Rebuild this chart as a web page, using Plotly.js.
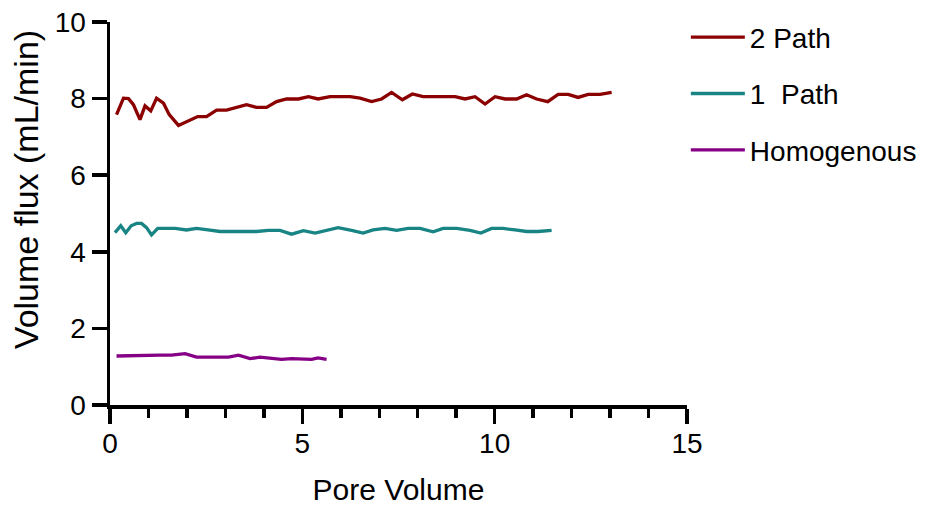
<!DOCTYPE html>
<html>
<head>
<meta charset="utf-8">
<script src="https://cdn.plot.ly/plotly-3.0.1.min.js"></script>
<style>html,body{margin:0;padding:0;background:#fff;}#chart{width:946px;height:508px;}</style>
</head>
<body>
<div id="chart"></div>
<script>
const seriesNames = ["2 Path", "1  Path", "Homogenous"];

const path2X = [0.17,0.35,0.48,0.61,0.78,0.91,1.06,1.21,1.39,1.54,1.78,2.04,2.28,2.51,2.77,3.03,3.29,3.55,3.81,4.07,4.33,4.59,4.90,5.16,5.41,5.72,5.98,6.24,6.5,6.80,7.06,7.32,7.60,7.86,8.14,8.45,8.71,8.97,9.23,9.49,9.75,10.01,10.27,10.57,10.83,11.09,11.38,11.65,11.91,12.17,12.43,12.74,13.04];
const path2Y = [7.58,8.01,8.0,7.84,7.45,7.81,7.68,8.01,7.88,7.58,7.30,7.42,7.53,7.53,7.70,7.70,7.77,7.84,7.77,7.77,7.92,7.99,7.99,8.05,7.99,8.05,8.05,8.05,8.01,7.92,7.99,8.16,7.97,8.12,8.05,8.05,8.05,8.05,7.99,8.05,7.86,8.05,7.99,7.99,8.10,7.99,7.92,8.11,8.11,8.03,8.11,8.11,8.16];

const path1X = [0.13,0.28,0.41,0.55,0.69,0.82,0.95,1.08,1.24,1.5,1.69,1.99,2.25,2.55,2.86,3.15,3.5,3.81,4.12,4.42,4.72,5.03,5.33,5.63,5.93,6.28,6.58,6.84,7.15,7.45,7.75,8.06,8.40,8.66,9.01,9.36,9.64,9.92,10.22,10.53,10.83,11.13,11.48];
const path1Y = [4.50,4.68,4.50,4.68,4.74,4.74,4.63,4.44,4.61,4.61,4.61,4.57,4.61,4.57,4.53,4.53,4.53,4.53,4.56,4.56,4.46,4.55,4.49,4.57,4.63,4.56,4.49,4.57,4.61,4.56,4.61,4.61,4.52,4.61,4.61,4.56,4.49,4.61,4.61,4.57,4.53,4.53,4.56];

const homoX = [0.17,0.45,0.75,1.0,1.3,1.6,1.95,2.25,2.5,2.73,3.08,3.34,3.64,3.90,4.2,4.46,4.72,5.03,5.24,5.41,5.63];
const homoY = [1.28,1.29,1.29,1.30,1.30,1.30,1.34,1.25,1.25,1.25,1.25,1.30,1.21,1.25,1.21,1.19,1.21,1.21,1.19,1.23,1.19];

const xTickVals = [0, 5, 10, 15];
const yTickVals = [0, 2, 4, 6, 8, 10];
const xTitle = "Pore Volume";
const yTitle = "Volume flux (mL/min)";

const colors = ["#8B0000", "#188484", "#850085"];
const xs = [path2X, path1X, homoX];
const ys = [path2Y, path1Y, homoY];

const traces = seriesNames.map((n, i) => ({
  x: xs[i], y: ys[i], name: n, type: "scatter", mode: "lines",
  legendgroup: "g" + i,
  line: {color: colors[i], width: 3.3}
}));

const font = "Liberation Sans, Arial, sans-serif";
const layout = {
  width: 946, height: 508,
  margin: {l: 110, r: 259, t: 22, b: 103},
  paper_bgcolor: "#fff", plot_bgcolor: "#fff",
  font: {family: font, color: "#000"},
  showlegend: true,
  legend: {x: 0.998, y: 1.025, xanchor: "left", yanchor: "top", itemwidth: 54,
           font: {family: font, size: 28, color: "#000"}, tracegroupgap: 17,
           bgcolor: "rgba(0,0,0,0)"},
  xaxis: {
    range: [0, 15], tickvals: xTickVals, ticktext: xTickVals.map(String),
    showline: true, linewidth: 3.5, linecolor: "#000",
    ticks: "outside", ticklen: 15, tickwidth: 3.5, tickcolor: "#000",
    ticklabelstandoff: -4,
    minor: {dtick: 1, ticks: "outside", ticklen: 9, tickwidth: 3.5, tickcolor: "#000", showgrid: false},
    showgrid: false, zeroline: false,
    tickfont: {family: font, size: 28, color: "#000"},
    title: {text: xTitle, font: {family: font, size: 30, color: "#000"}, standoff: 22}
  },
  yaxis: {
    range: [0, 10], tickvals: yTickVals, ticktext: yTickVals.map(String),
    showline: true, linewidth: 3.5, linecolor: "#000",
    ticks: "outside", ticklen: 15, tickwidth: 3.5, tickcolor: "#000",
    showgrid: false, zeroline: false,
    tickfont: {family: font, size: 28, color: "#000"},
    title: {text: yTitle, font: {family: font, size: 34, color: "#000"}, standoff: 7}
  }
};

Plotly.newPlot("chart", traces, layout, {staticPlot: true, displayModeBar: false}).then(gd => {
  const t = gd.querySelector(".ytitle");
  if (t) {
    const tr = t.getAttribute("transform") || "";
    t.setAttribute("transform", "translate(0,-24) " + tr);
  }
});
</script>
</body>
</html>
